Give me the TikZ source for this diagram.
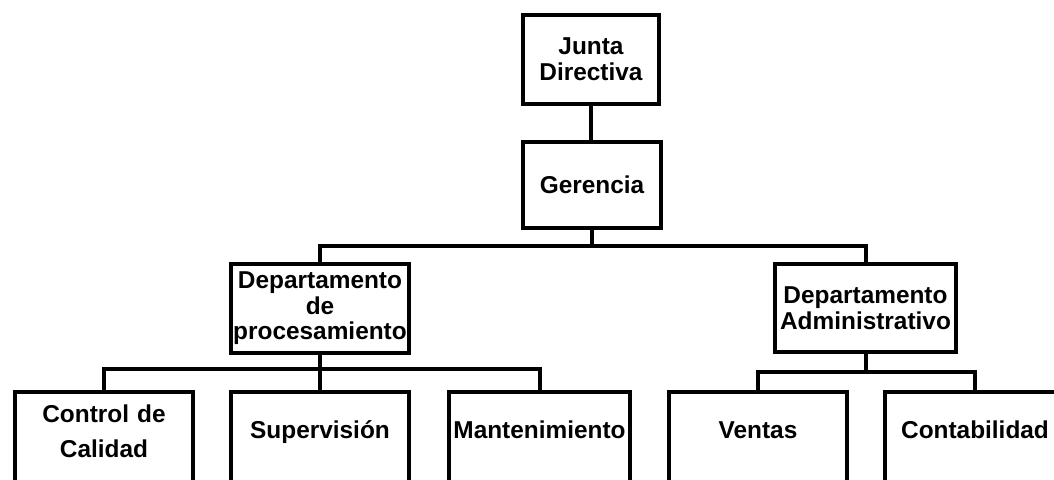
\documentclass[tikz,border=0pt]{standalone}
\usepackage{fontspec}
\setmainfont{Liberation Sans}
\usepackage{tikz}

\begin{document}
\begin{tikzpicture}[x=0.5pt,y=-0.5pt,
	caja/.style={draw,line width=2pt,inner sep=0pt,outer sep=0pt,align=center,
		font=\fontsize{12.2}{12.8}\selectfont\bfseries},
	hoja/.style={caja,anchor=north,text width=#1,text height=23pt,text depth=70pt},
	linea/.style={line width=2pt}]
	\useasboundingbox (0,0) rectangle (1054,479);
	\clip (0,0) rectangle (1054,479);
	% Cajas de arriba
	\node[caja,minimum width=68pt,minimum height=44.5pt] (junta) at (591,59.5) {Junta\\Directiva};
	\node[caja,minimum width=69pt,minimum height=43pt] (gerencia) at (592,185) {Gerencia};
	\node[caja,minimum width=89pt,minimum height=44.5pt] (proc) at (320,308.5) {Departamento\\de\\procesamiento};
	\node[caja,minimum width=90.5pt,minimum height=44pt] (admin) at (865.5,308) {Departamento\\Administrativo};
	% Cajas de abajo
	\node[hoja=89pt,text height=15pt] (calidad) at (104,392) {Control de\\[4.7pt]Calidad};
	\node[hoja=89pt] (superv) at (320,392) {Supervisión};
	\node[hoja=90.5pt] (mant) at (539.5,392) {Mantenimiento};
	\node[hoja=89pt] (ventas) at (758,392) {Ventas};
	\node[hoja=90pt] (conta) at (975,392) {Contabilidad};
	% Lineas
	\coordinate (bus1) at (592,246);
	\coordinate (bus2) at (320,369);
	\coordinate (bus3) at (865.5,372);
	\draw[linea] (junta.south) -- (junta.south |- gerencia.north);
	\draw[linea] (gerencia.south) -- (bus1);
	\draw[linea] (proc.north) |- (bus1) -| (admin.north);
	\draw[linea] (proc.south) -- (bus2);
	\draw[linea] (calidad.north) |- (bus2) -| (mant.north);
	\draw[linea] (bus2) -- (superv.north);
	\draw[linea] (admin.south) -- (bus3);
	\draw[linea] (ventas.north) |- (bus3) -| (conta.north);
\end{tikzpicture}
\end{document}
